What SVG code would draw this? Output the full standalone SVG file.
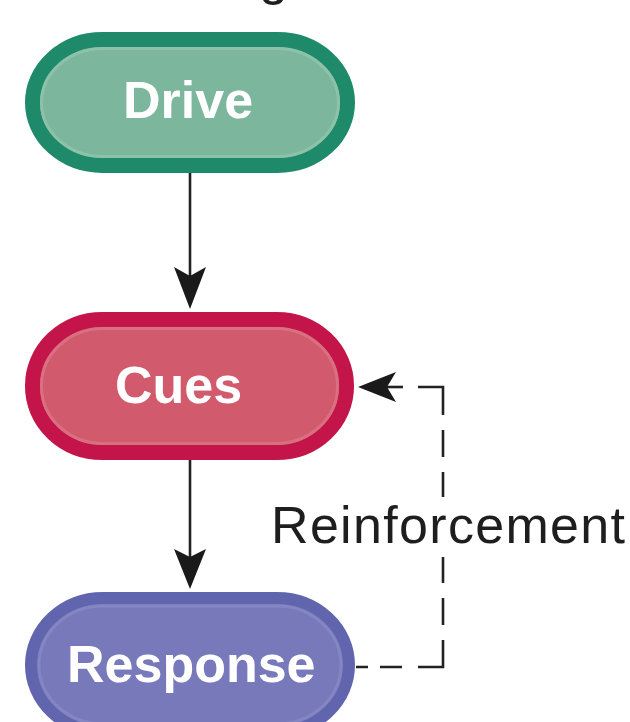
<svg xmlns="http://www.w3.org/2000/svg" width="630" height="722" viewBox="0 0 630 722">
<style>
.lbl{font-family:"Liberation Sans",Arial,sans-serif;font-weight:bold;fill:#ffffff;font-size:52px}
.txt{font-family:"Liberation Sans",Arial,sans-serif;fill:#1e1e1e;font-size:52px}
.ring{fill:none;stroke-width:3}
.line{stroke:#222;stroke-width:2.6;fill:none}
.dash{stroke:#222;stroke-width:2.6;fill:none}
.head{fill:#1a1a1a}
</style>
<rect width="630" height="722" fill="#ffffff"/>
<text class="txt" x="259" y="-6">g</text>
<g id="drive">
<rect x="32.5" y="39.5" width="315" height="126" rx="70" ry="63" fill="#7cb69d" stroke="#1f8a6a" stroke-width="15"/>
<rect x="41.5" y="48.5" width="297" height="108" rx="62" ry="54" class="ring" stroke="#8cc2a9"/>
<text class="lbl" x="123" y="118" font-size="51">Drive</text>
</g>
<g id="cues">
<rect x="32.5" y="319.5" width="314" height="133" rx="70" ry="66" fill="#d25a6d" stroke="#c4154a" stroke-width="15"/>
<rect x="41.5" y="328.5" width="296" height="115" rx="62" ry="57" class="ring" stroke="#d97080"/>
<text class="lbl" x="115" y="403">Cues</text>
</g>
<g id="response">
<rect x="31" y="598" width="318" height="134" rx="72" ry="67" fill="#7779bb" stroke="#6065ae" stroke-width="12"/>
<rect x="39" y="606" width="302" height="118" rx="64" ry="59" class="ring" stroke="#8486c3"/>
<text class="lbl" x="67" y="682">Response</text>
</g>
<g id="connectors">
<line class="line" x1="190" y1="173" x2="190" y2="290"/>
<polygon class="head" points="190,309 174,267 190,276 206,267"/>
<line class="line" x1="190" y1="460" x2="190" y2="570"/>
<polygon class="head" points="190,589 174,549 190,557 206,549"/>
<path class="dash" d="M418,387 H443 V667 H356" stroke-dasharray="53 15 27 15 27 15 27 15 27 15 27 15 52 16 22 12 12"/>
<line class="line" x1="375" y1="387" x2="403" y2="387"/>
<polygon class="head" points="358,387 396,372 387,387 396,402"/>
</g>
<g id="reinforcement-label">
<rect x="434" y="497" width="18" height="60" fill="#ffffff"/>
<text class="txt" x="271" y="543" textLength="354" lengthAdjust="spacing">Reinforcement</text>
</g>
</svg>
